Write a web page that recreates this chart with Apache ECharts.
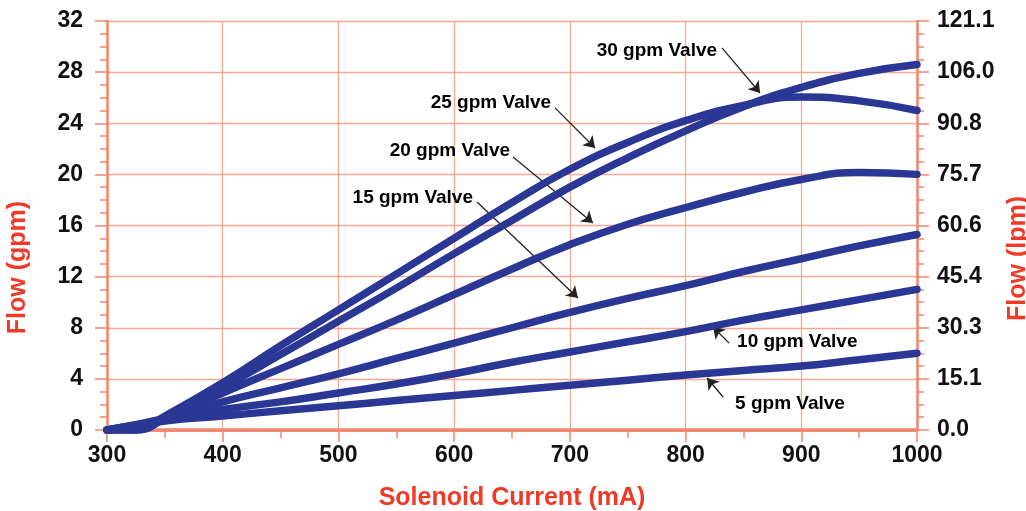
<!DOCTYPE html>
<html>
<head>
<meta charset="utf-8">
<script src="https://cdn.jsdelivr.net/npm/echarts@6/dist/echarts.min.js"></script>
<style>
html,body{margin:0;padding:0;background:#ffffff;overflow:hidden;width:1026px;height:511px;}
#chart{width:1026px;height:511px;display:block;}
</style>
</head>
<body>
<div id="chart"></div>
<script>
// Solenoid current (mA)
const currentLow = [300, 350, 400, 450, 500, 550, 600, 650, 700, 750, 800, 850, 900, 950, 1000];
const currentHigh = [300, 325, 350, 400, 450, 500, 550, 600, 650, 700, 750, 800, 850, 900, 950, 1000];
// Flow (gpm)
const flow5 = [0, 0.7, 1.1, 1.5, 1.9, 2.3, 2.7, 3.1, 3.5, 3.9, 4.3, 4.65, 5.0, 5.5, 6.0];
const flow10 = [0, 0.8, 1.6, 2.2, 2.9, 3.6, 4.4, 5.3, 6.1, 6.9, 7.7, 8.6, 9.4, 10.2, 11.0];
const flow15 = [0, 0.9, 2.2, 3.3, 4.4, 5.6, 6.8, 8.0, 9.2, 10.3, 11.3, 12.4, 13.4, 14.4, 15.3];
const flow20 = [0, 0, 0.9, 2.9, 4.8, 6.7, 8.6, 10.6, 12.6, 14.5, 16.1, 17.4, 18.6, 19.6, 20.15, 20.0];
const flow25 = [0, 0, 1.1, 3.7, 6.6, 9.4, 12.2, 15.0, 17.8, 20.4, 22.5, 24.2, 25.4, 26.05, 25.75, 25.0];
const flow30 = [0, 0, 0.9, 3.3, 5.9, 8.5, 11.1, 13.8, 16.4, 19.0, 21.3, 23.4, 25.3, 26.8, 27.9, 28.6];
// Axis tick labels
const xTicks = [300, 400, 500, 600, 700, 800, 900, 1000];
const yLeftTicks = ['0', '4', '8', '12', '16', '20', '24', '28', '32'];
const yRightTicks = ['0.0', '15.1', '30.3', '45.4', '60.6', '75.7', '90.8', '106.0', '121.1'];
// Annotations (data coordinates: mA, gpm)
const annoText = ['30 gpm Valve', '25 gpm Valve', '20 gpm Valve', '15 gpm Valve', '10 gpm Valve', '5 gpm Valve'];
const annoAnchor = [[827.2, 29.66], [683.8, 25.59], [648.3, 21.83], [616.3, 18.15], [844.5, 6.89], [842.8, 2.03]];
const annoSide = ['left', 'left', 'left', 'left', 'right', 'right'];
const arrowFrom = [[831.5, 29.9], [687.2, 25.2], [650.9, 21.36], [619.8, 17.84], [837.6, 6.8], [832.4, 2.58]];
const arrowTo = [[864.4, 26.37], [721.8, 22.07], [720.0, 16.2], [707.0, 10.33], [823.8, 8.06], [818.6, 4.07]];

const gridColor = '#f6a893';
const axisColor = '#f2876d';
const curveColor = '#2b3795';
const redText = '#ee3a26';
const font = "'Liberation Sans', Arial, sans-serif";

function pairs(xs, ys) { return xs.map((x, i) => [x, ys[i]]); }

function curve(name, xs, ys) {
  return {
    name: name, type: 'line', smooth: 0.5, showSymbol: false, silent: true,
    data: pairs(xs, ys), z: 5,
    lineStyle: { color: curveColor, width: 7.5, cap: 'round', join: 'round' },
    itemStyle: { color: curveColor }
  };
}

const tickLabel = { color: '#111', fontSize: 23, fontWeight: 'bold', fontFamily: font };

const chart = echarts.init(document.getElementById('chart'), null, { renderer: 'canvas', width: 1026, height: 511 });
chart.setOption({
  animation: false,
  backgroundColor: '#ffffff',
  grid: { left: 107, right: 109, top: 21, bottom: 81, containLabel: false, outerBoundsMode: 'none' },
  xAxis: [{
    type: 'value', min: 300, max: 1000, interval: 100,
    name: 'Solenoid Current (mA)', nameLocation: 'middle', nameGap: 56,
    nameTextStyle: { color: redText, fontSize: 25, fontWeight: 'bold', fontFamily: font },
    axisLine: { show: true, onZero: false, lineStyle: { color: axisColor, width: 2.5 } },
    axisTick: { show: true, length: 12, inside: false, lineStyle: { color: axisColor, width: 1.5 } },
    minorTick: { show: true, splitNumber: 2, length: 8, lineStyle: { color: axisColor, width: 1.5 } },
    splitLine: { show: true, lineStyle: { color: gridColor, width: 1.3 } },
    axisLabel: Object.assign({ margin: 14, formatter: v => xTicks.includes(v) ? String(v) : '' }, tickLabel)
  }, {
    type: 'value', min: 300, max: 1000, position: 'top',
    axisLine: { show: true, lineStyle: { color: axisColor, width: 3.5 } },
    axisTick: { show: false }, axisLabel: { show: false }, splitLine: { show: false }
  }],
  yAxis: [{
    type: 'value', min: 0, max: 32, interval: 4, position: 'left',
    name: 'Flow (gpm)', nameLocation: 'middle', nameGap: 76, nameRotate: 90,
    nameTextStyle: { color: redText, fontSize: 25, fontWeight: 'bold', fontFamily: font, padding: [0, 84, 0, 0] },
    axisLine: { show: true, onZero: false, lineStyle: { color: axisColor, width: 2.5 } },
    axisTick: { show: true, length: 12, lineStyle: { color: axisColor, width: 1.5 } },
    minorTick: { show: true, splitNumber: 4, length: 7, lineStyle: { color: axisColor, width: 1.5 } },
    splitLine: { show: true, lineStyle: { color: gridColor, width: 1.3 } },
    axisLabel: Object.assign({ margin: 24, formatter: (v) => yLeftTicks[Math.round(v / 4)] }, tickLabel)
  }, {
    type: 'value', min: 0, max: 32, interval: 4, position: 'right',
    name: 'Flow (lpm)', nameLocation: 'middle', nameGap: 84, nameRotate: 90,
    nameTextStyle: { color: redText, fontSize: 25, fontWeight: 'bold', fontFamily: font, padding: [0, 66, 0, 0] },
    axisLine: { show: true, onZero: false, lineStyle: { color: axisColor, width: 2.5 } },
    axisTick: { show: true, length: 12, lineStyle: { color: axisColor, width: 1.5 } },
    minorTick: { show: true, splitNumber: 4, length: 7, lineStyle: { color: axisColor, width: 1.5 } },
    splitLine: { show: false },
    axisLabel: Object.assign({ margin: 20, formatter: (v) => yRightTicks[Math.round(v / 4)] }, tickLabel)
  }],
  series: [
    curve('5 gpm Valve', currentLow, flow5),
    curve('10 gpm Valve', currentLow, flow10),
    curve('15 gpm Valve', currentLow, flow15),
    curve('20 gpm Valve', currentHigh, flow20),
    curve('30 gpm Valve', currentHigh, flow30),
    curve('25 gpm Valve', currentHigh, flow25),
    {
      name: 'annotations', type: 'scatter', symbolSize: 0, silent: true, z: 10,
      itemStyle: { opacity: 1 },
      data: annoText.map((t, i) => ({
        name: t, value: annoAnchor[i],
        label: { show: true, position: annoSide[i], distance: 0 }
      })),
      label: { formatter: p => p.name, color: '#000', fontSize: 19, fontWeight: 'bold', fontFamily: font, opacity: 1 },
      markLine: {
        silent: true, animation: false,
        symbol: ['none', 'arrow'], symbolSize: 11,
        lineStyle: { color: '#222', width: 1.3, type: 'solid', opacity: 1 },
        label: { show: false },
        emphasis: { disabled: true },
        data: arrowFrom.map((f, i) => [{ coord: f }, { coord: arrowTo[i] }])
      }
    }
  ]
});
</script>
</body>
</html>
